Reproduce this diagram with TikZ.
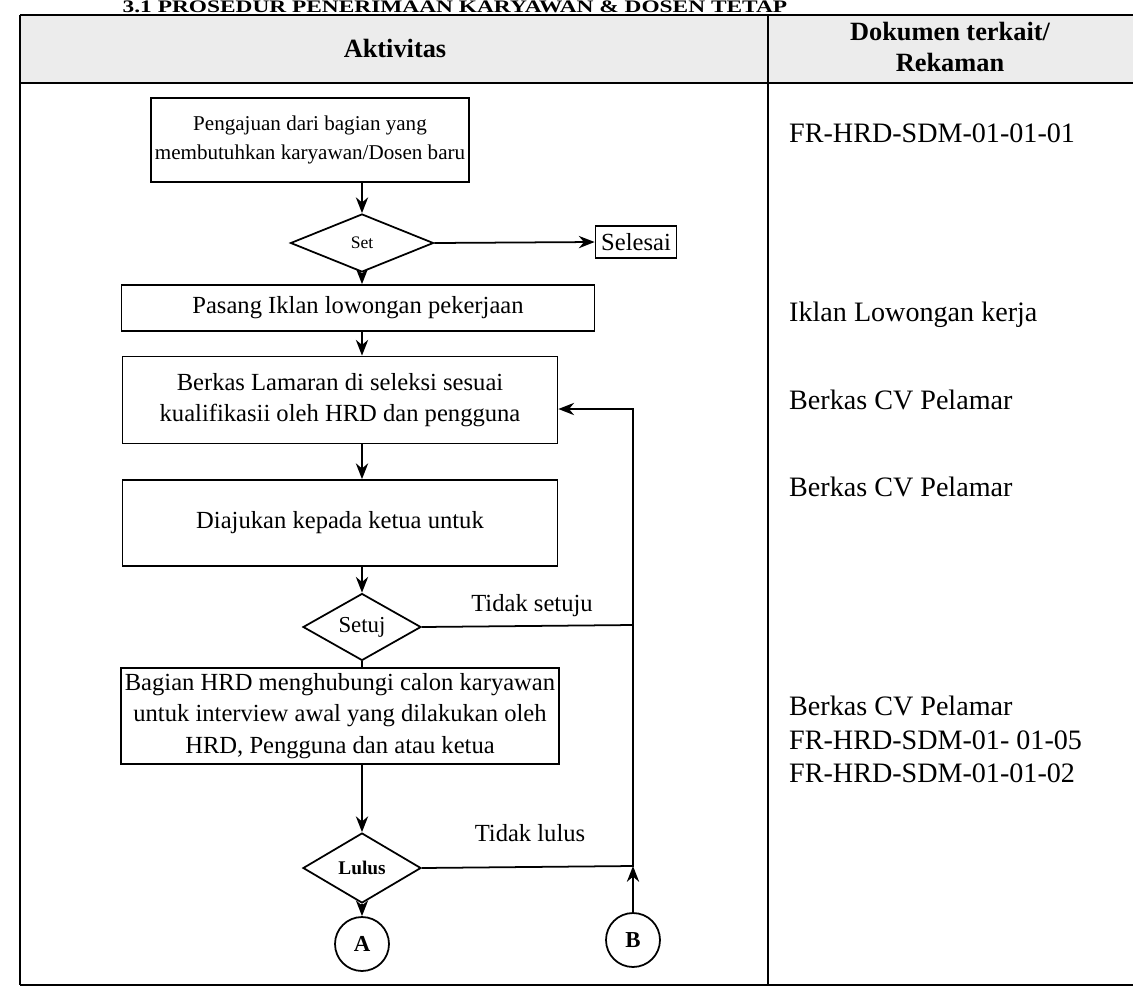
\documentclass[tikz,border=0pt]{standalone}
\usepackage{fontspec}
\setmainfont{Liberation Serif}
\usetikzlibrary{arrows.meta,shapes.geometric,positioning}

\begin{document}
\begin{tikzpicture}[x=0.02cm,y=-0.02cm,
  kotak/.style={draw,line width=1pt,align=center,inner sep=2pt},
  keputusan/.style={draw,diamond,line width=1pt,inner sep=0pt},
  bulat/.style={draw,circle,line width=1pt,inner sep=0pt,minimum size=1.08cm,font=\bfseries\fontsize{13}{15}\selectfont},
  panah/.style={line width=1pt,-{Stealth[length=9pt,width=7pt]}},
  garis/.style={line width=1pt},
  dok/.style={anchor=west,font=\fontsize{16}{19}\selectfont,align=left},
  flow/.style={font=\fontsize{14}{18}\selectfont},
  ket/.style={font=\fontsize{14}{16}\selectfont}]
\useasboundingbox (0,0) rectangle (1133,991);

% tabel
\fill[gray!15] (20,15) rectangle (1133,83);
\node[anchor=base,inner sep=0pt] (judul) at (455,12.5) {\scalebox{1.33}[1]{\bfseries\fontsize{10}{12}\selectfont 3.1 PROSEDUR PENERIMAAN KARYAWAN \& DOSEN TETAP}};
\node[font=\bfseries\fontsize{15}{18}\selectfont] (aktivitas) at (395,48) {Aktivitas};
\node[font=\bfseries\fontsize{15}{18}\selectfont,align=center] (dokumen) at (950,47) {Dokumen terkait/\\Rekaman};
\draw[line width=1.5pt] (20,15) -- (1133,15);
\draw[line width=1.5pt] (20,83) -- (1133,83);
\draw[line width=1.2pt] (20,15) -- (20,985);
\draw[line width=1.2pt] (768,15) -- (768,985);
\draw[line width=1.5pt] (20,985) -- (1133,985);

% aktivitas
\node[kotak,minimum width=5.9cm,minimum height=1.68cm,font=\fontsize{12}{16}\selectfont] (pengajuan) at (310,140) {Pengajuan dari bagian yang\\membutuhkan karyawan/Dosen baru};
\node[keputusan,minimum width=2.86cm,minimum height=1.16cm,font=\fontsize{10}{12}\selectfont] (setd) at (362,243) {Set};
\node[kotak,minimum width=1.62cm,minimum height=0.64cm,inner sep=1pt,flow] (selesai) at (636,242) {Selesai};
\node[kotak,minimum width=9.46cm,minimum height=0.92cm,flow] (pasang) at (358,308) {Pasang Iklan lowongan pekerjaan};
\node[kotak,minimum width=8.7cm,minimum height=1.74cm,flow] (berkas) at (340,400) {Berkas Lamaran di seleksi sesuai\\kualifikasii oleh HRD dan pengguna};
\node[kotak,minimum width=8.7cm,minimum height=1.72cm,flow] (diajukan) at (340,523) {Diajukan kepada ketua untuk};
\node[keputusan,minimum width=2.36cm,minimum height=1.32cm,font=\fontsize{13}{15}\selectfont] (setuj) at (362,627) {Setuj};
\node[kotak,minimum width=8.7cm,minimum height=1.92cm,flow] (hubungi) at (340,716) {Bagian HRD menghubungi calon karyawan\\untuk interview awal yang dilakukan oleh\\HRD, Pengguna dan atau ketua};
\node[keputusan,minimum width=2.36cm,minimum height=1.4cm,font=\bfseries\fontsize{11}{13}\selectfont] (lulus) at (362,868) {Lulus};
\node[bulat] (a) at (362,944) {A};
\node[bulat] (b) at (633,940) {B};
\coordinate (sudut1) at (633,625);
\coordinate (sudut2) at (633,866);
\coordinate (masuk) at ([yshift=-0.18cm]berkas.east);

\draw[panah] (setd |- pengajuan.south) -- (setd.north);
\draw[panah] (setd.east) -- (selesai.west);
\draw[panah] (setd.south) -- (setd |- pasang.north);
\draw[panah] (setd |- pasang.south) -- (setd |- berkas.north);
\draw[panah] (setd |- berkas.south) -- (setd |- diajukan.north);
\draw[panah] (setd |- diajukan.south) -- (setuj.north);
\draw[garis] (setuj.south) -- (setuj |- hubungi.north);
\draw[panah] (setd |- hubungi.south) -- (lulus.north);
\draw[panah] (lulus.south) -- (a.north);
\draw[panah] (setuj.east) -- (sudut1) -- (sudut1 |- masuk) -- (masuk);
\draw[garis] (lulus.east) -- (sudut2) -- (sudut1);
\draw[panah] (b.north) -- (sudut2);
\node[ket] (tsetuju) at (532,606) {Tidak setuju};
\node[ket] (tlulus) at (530,833) {Tidak lulus};

% dokumen
\node[dok] (d1) at (783,133) {FR-HRD-SDM-01-01-01};
\node[dok] (d2) at (783,315) {Iklan Lowongan kerja};
\node[dok] (d3) at (783,400) {Berkas CV Pelamar};
\node[dok] (d4) at (783,487) {Berkas CV Pelamar};
\node[dok,anchor=north west] (d5) at (783,690) {Berkas CV Pelamar\\FR-HRD-SDM-01- 01-05\\FR-HRD-SDM-01-01-02};
\end{tikzpicture}
\end{document}
